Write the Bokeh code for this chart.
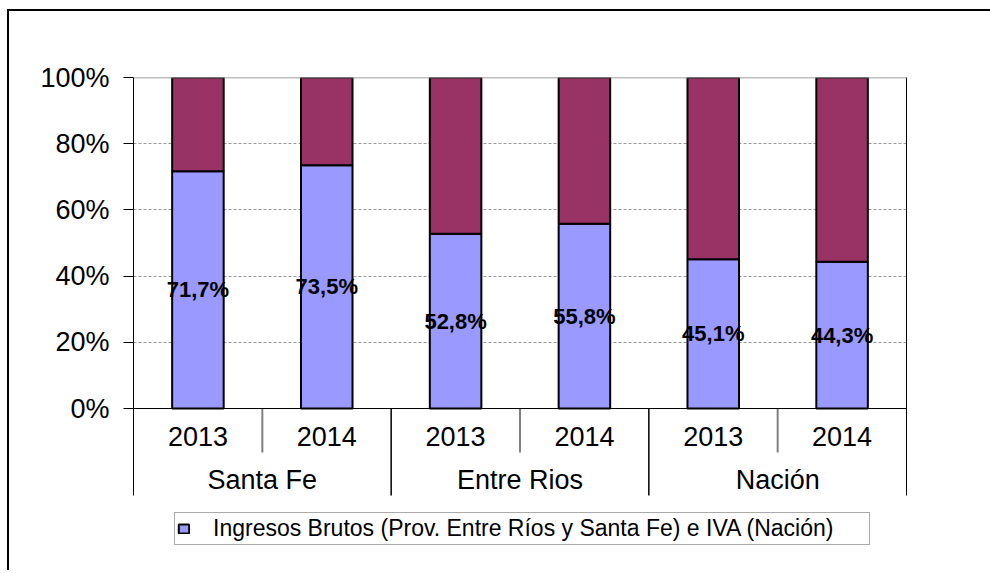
from bokeh.plotting import figure
from bokeh.models import (FactorRange, Range1d, FixedTicker, PrintfTickFormatter, LinearAxis,
                          CategoricalAxis, Span, Legend, LegendItem, ColumnDataSource)
from bokeh.core.properties import value
from bokeh.embed import file_html
from bokeh.resources import INLINE

# ---- data ----
groups = ["Santa Fe", "Entre Rios", "Nación"]
years = ["2013", "2014"]
ingresos = [71.7, 73.5, 52.8, 55.8, 45.1, 44.3]
y_ticks = [0, 20, 40, 60, 80, 100]
legend_text = "Ingresos Brutos (Prov. Entre Ríos y Santa Fe) e IVA (Nación)"

factors = [(g, y) for g in groups for y in years]
resto_top = [100] * len(ingresos)
labels = [f"{v:.1f}%".replace(".", ",") for v in ingresos]
mid = [v / 2 for v in ingresos]

src = ColumnDataSource(dict(x=factors, ib=ingresos, top=resto_top, lab=labels, mid=mid))

FONT = "Liberation Sans"
BLUE = "#9999FF"
MAROON = "#993366"
AX_FS = "27px"

AXIS_BOTTOM = -26.28   # lower end of the category-label band (in y units)
x_range = FactorRange(*factors, range_padding=0, group_padding=0, factor_padding=0)
y_range = Range1d(-45.92, 100)

p = figure(x_range=x_range, y_range=y_range,
           frame_width=773, frame_height=483,
           min_border_left=124, min_border_top=66, min_border_right=84, min_border_bottom=10,
           x_axis_location=None, y_axis_location="left",
           output_backend="svg", toolbar_location=None)
p.styles = {"border-left": "2px solid black", "border-top": "2px solid black",
            "margin-top": "9px", "margin-left": "7px"}
p.outline_line_color = None
p.background_fill_color = "white"
p.border_fill_color = "white"

# y axis
ya = p.yaxis[0]
ya.ticker = FixedTicker(ticks=y_ticks)
ya.formatter = PrintfTickFormatter(format="%d%%")
ya.bounds = (AXIS_BOTTOM, y_ticks[-1])
ya.major_label_text_font = FONT
ya.major_label_text_font_size = AX_FS
ya.major_label_text_color = "black"
ya.axis_line_color = "black"
ya.axis_line_width = 1
ya.major_tick_line_color = "black"
ya.major_tick_out = 10
ya.major_tick_in = 0
ya.minor_tick_line_color = None
ya.major_label_standoff = 14

# right edge line
ra = LinearAxis(ticker=FixedTicker(ticks=[]), major_tick_line_color=None,
                minor_tick_line_color=None, axis_line_color="black",
                bounds=(AXIS_BOTTOM, y_ticks[-1]))
p.add_layout(ra, "right")

# grid
p.ygrid.ticker = FixedTicker(ticks=y_ticks[1:-1])
p.ygrid.grid_line_color = "#999999"
p.ygrid.grid_line_dash = "3 2"
p.ygrid.grid_line_width = 1
p.xgrid.visible = False
p.add_layout(Span(location=y_ticks[-1], dimension="width", line_color="#808080", line_width=1.5))

# bars
r1 = p.vbar(x="x", top="ib", bottom=0, width=0.4, source=src,
            fill_color=BLUE, line_color="black", line_width=2)
r2 = p.vbar(x="x", top="top", bottom="ib", width=0.4, source=src,
            fill_color=MAROON, line_color="black", line_width=2)

# data labels
p.text(x="x", y="mid", text="lab", source=src, text_align="center", text_baseline="middle",
       text_font=value(FONT), text_font_size="22px", text_font_style="bold", text_color="black")

# extra range for group labels
p.extra_x_ranges = {"grp": FactorRange(*groups, range_padding=0)}

# x axes (years, groups)
xa = CategoricalAxis(fixed_location=0)
xa.axis_line_color = "black"
xa.axis_line_width = 1
xa.major_tick_line_color = None
xa.minor_tick_line_color = None
xa.major_label_text_font = FONT
xa.major_label_text_font_size = AX_FS
xa.major_label_text_color = "black"
xa.major_label_standoff = 12
xa.group_text_alpha = 0
xa.separator_line_color = None
p.add_layout(xa, "below")

ga = CategoricalAxis(x_range_name="grp", fixed_location=0)
ga.axis_line_color = None
ga.major_tick_line_color = None
ga.minor_tick_line_color = None
ga.major_label_text_font = FONT
ga.major_label_text_font_size = AX_FS
ga.major_label_text_color = "black"
ga.major_label_standoff = 50
p.add_layout(ga, "below")

# category separators (synthetic coordinates of the factor range: boundaries between factors)
n_y = len(years)
inner = [float(i) for i in range(1, len(factors)) if i % n_y != 0]
outer = [float(i) for i in range(1, len(factors)) if i % n_y == 0]
p.segment(x0=inner, x1=inner, y0=[0] * len(inner), y1=[-13.3] * len(inner),
          line_color="#808080", line_width=2)
p.segment(x0=outer, x1=outer, y0=[0] * len(outer), y1=[AXIS_BOTTOM] * len(outer),
          line_color="black", line_width=1.5)

# legend
legend = Legend(items=[LegendItem(label=legend_text, renderers=[r1])],
                location=(41, 15), orientation="vertical",
                label_text_font=FONT, label_text_font_size="23px", label_text_color="black",
                glyph_width=13, glyph_height=11, label_height=21, label_width=654,
                label_standoff=23, padding=2, spacing=0, margin=0,
                border_line_color="#555555", border_line_width=1,
                background_fill_color="white", background_fill_alpha=1)
p.add_layout(legend)

open("out.html", "w").write(file_html(p, INLINE))
